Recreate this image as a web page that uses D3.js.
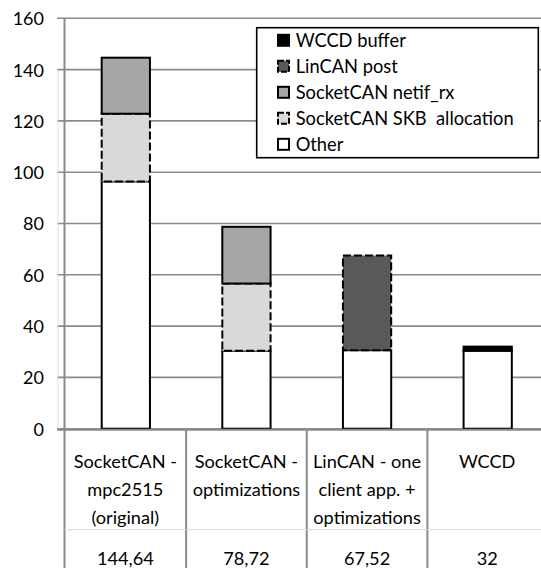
<!DOCTYPE html>
<html>
<head>
<meta charset="utf-8">
<script src="https://cdn.jsdelivr.net/npm/d3@7"></script>
<style>
  html, body { margin: 0; padding: 0; background: #fff; }
  svg { display: block; font-family: Lato, "Open Sans", sans-serif; }
</style>
</head>
<body>
<svg id="chart" width="541" height="568"></svg>
<script>
// Categories (x axis / data table header), multi-line labels
const categories = ["SocketCAN - mpc2515 (original)", "SocketCAN - optimizations", "LinCAN - one client app. + optimizations", "WCCD"];
const categoryLines = [
  ["SocketCAN -", "mpc2515", "(original)"],
  ["SocketCAN -", "optimizations"],
  ["LinCAN - one", "client app. +", "optimizations"],
  ["WCCD"]
];
const totalLabels = ["144,64", "78,72", "67,52", "32"];

// Stacked series, bottom to top
const seriesNames = ["Other", "SocketCAN SKB  allocation", "SocketCAN netif_rx", "LinCAN post", "WCCD buffer"];
const other      = [96.4, 30.4, 30.6, 30.4];
const skbAlloc   = [26.4, 26.2, 0, 0];
const netifRx    = [21.84, 22.12, 0, 0];
const lincanPost = [0, 0, 36.92, 0];
const wccdBuffer = [0, 0, 0, 1.6];
const yTicks = [0, 20, 40, 60, 80, 100, 120, 140, 160];

const seriesValues = [other, skbAlloc, netifRx, lincanPost, wccdBuffer];
const seriesStyle = {
  "Other":                     { fill: "#ffffff", dash: null },
  "SocketCAN SKB  allocation": { fill: "#d9d9d9", dash: "8,3" },
  "SocketCAN netif_rx":        { fill: "#a6a6a6", dash: null },
  "LinCAN post":               { fill: "#595959", dash: "8,3" },
  "WCCD buffer":               { fill: "#000000", dash: null }
};

const rows = categories.map((c, i) => {
  const r = { category: c };
  seriesNames.forEach((s, k) => { r[s] = seriesValues[k][i]; });
  return r;
});

const svg = d3.select("#chart");
const plotLeft = 64.5, plotRight = 547, plotTop = 18.3, plotBottom = 428.7;
const gridColor = "#8a8a8a";

const x = d3.scaleBand().domain(categories).range([plotLeft + 1, plotRight + 1]).paddingInner(0.6).paddingOuter(0.3);
const y = d3.scaleLinear().domain([0, 160]).range([plotBottom, plotTop]);

// Horizontal gridlines with left tick stubs
svg.append("g").selectAll("line").data(yTicks).join("line")
  .attr("x1", 57).attr("x2", 541)
  .attr("y1", d => y(d)).attr("y2", d => y(d))
  .attr("stroke", gridColor).attr("stroke-width", 1.6);

// Faint table-side rule
svg.append("line").attr("x1", 58).attr("x2", 58).attr("y1", y(140)).attr("y2", plotBottom)
  .attr("stroke", "#e0e0e0").attr("stroke-width", 1);

// Y axis labels
const yAxis = d3.axisLeft(y).tickValues(yTicks).tickSize(0).tickPadding(0);
const gy = svg.append("g").attr("transform", "translate(44,0)").call(yAxis);
gy.select(".domain").remove();
gy.selectAll("text").attr("font-size", 18).attr("fill", "#000").attr("font-family", "Lato, sans-serif").attr("dy", "0.36em");

// Stacked bars
const stack = d3.stack().keys(seriesNames)(rows);
stack.forEach(layer => {
  const st = seriesStyle[layer.key];
  svg.append("g").selectAll("rect").data(layer.filter(d => d[1] - d[0] > 0)).join("rect")
    .attr("x", d => x(d.data.category))
    .attr("width", x.bandwidth())
    .attr("y", d => y(d[1]))
    .attr("height", d => y(d[0]) - y(d[1]))
    .attr("fill", st.fill)
    .attr("stroke", "#000")
    .attr("stroke-width", 2)
    .attr("stroke-dasharray", st.dash);
});

// Y axis line (runs through the data table)
svg.append("line").attr("x1", plotLeft).attr("x2", plotLeft).attr("y1", plotTop).attr("y2", 568)
  .attr("stroke", gridColor).attr("stroke-width", 2);

// Data table below the axis
const boundaries = categories.slice(1).map(c => x(c) - x.step() * x.paddingInner() / 2);
svg.append("line").attr("x1", 57).attr("x2", 541).attr("y1", plotBottom + 1).attr("y2", plotBottom + 1)
  .attr("stroke", gridColor).attr("stroke-width", 2);
svg.append("g").selectAll("line").data(boundaries).join("line")
  .attr("x1", d => d).attr("x2", d => d).attr("y1", plotBottom).attr("y2", 568)
  .attr("stroke", gridColor).attr("stroke-width", 2);
svg.append("line").attr("x1", plotLeft).attr("x2", 541).attr("y1", 529.7).attr("y2", 529.7)
  .attr("stroke", "#d9d9d9").attr("stroke-width", 1);

const cellCenter = (c, i) => {
  const left = i === 0 ? plotLeft : boundaries[i - 1];
  const right = i === categories.length - 1 ? plotRight : boundaries[i];
  return (left + right) / 2;
};

categories.forEach((c, i) => {
  const cx = cellCenter(c, i);
  const t = svg.append("text").attr("text-anchor", "middle").attr("font-size", 18.2).attr("fill", "#000");
  categoryLines[i].forEach((line, j) => {
    t.append("tspan").attr("x", cx).attr("y", 461.4 + j * 27.8).attr("dy", "0.36em").text(line);
  });
  svg.append("text").attr("x", cx).attr("y", 558).attr("dy", "0.36em")
    .attr("text-anchor", "middle").attr("font-size", 18.2).attr("fill", "#000")
    .text(totalLabels[i]);
});

// Legend (top entry is the top of the stack)
const legend = svg.append("g");
legend.append("rect").attr("x", 256.7).attr("y", 27.7).attr("width", 281.6).attr("height", 130)
  .attr("fill", "#fff").attr("stroke", "#000").attr("stroke-width", 1.6);
const legendOrder = seriesNames.slice().reverse();
legendOrder.forEach((name, i) => {
  const cy = 40.3 + i * 26;
  const st = seriesStyle[name];
  legend.append("rect").attr("x", 278).attr("y", cy - 5.5).attr("width", 11).attr("height", 11)
    .attr("fill", st.fill).attr("stroke", "#000").attr("stroke-width", 2)
    .attr("stroke-dasharray", st.dash ? "6,2" : null);
  legend.append("text").attr("x", 295.7).attr("y", cy).attr("dy", "0.36em")
    .attr("font-size", 18.3).attr("fill", "#000").attr("xml:space", "preserve").style("white-space", "pre").text(name);
});
</script>
</body>
</html>
